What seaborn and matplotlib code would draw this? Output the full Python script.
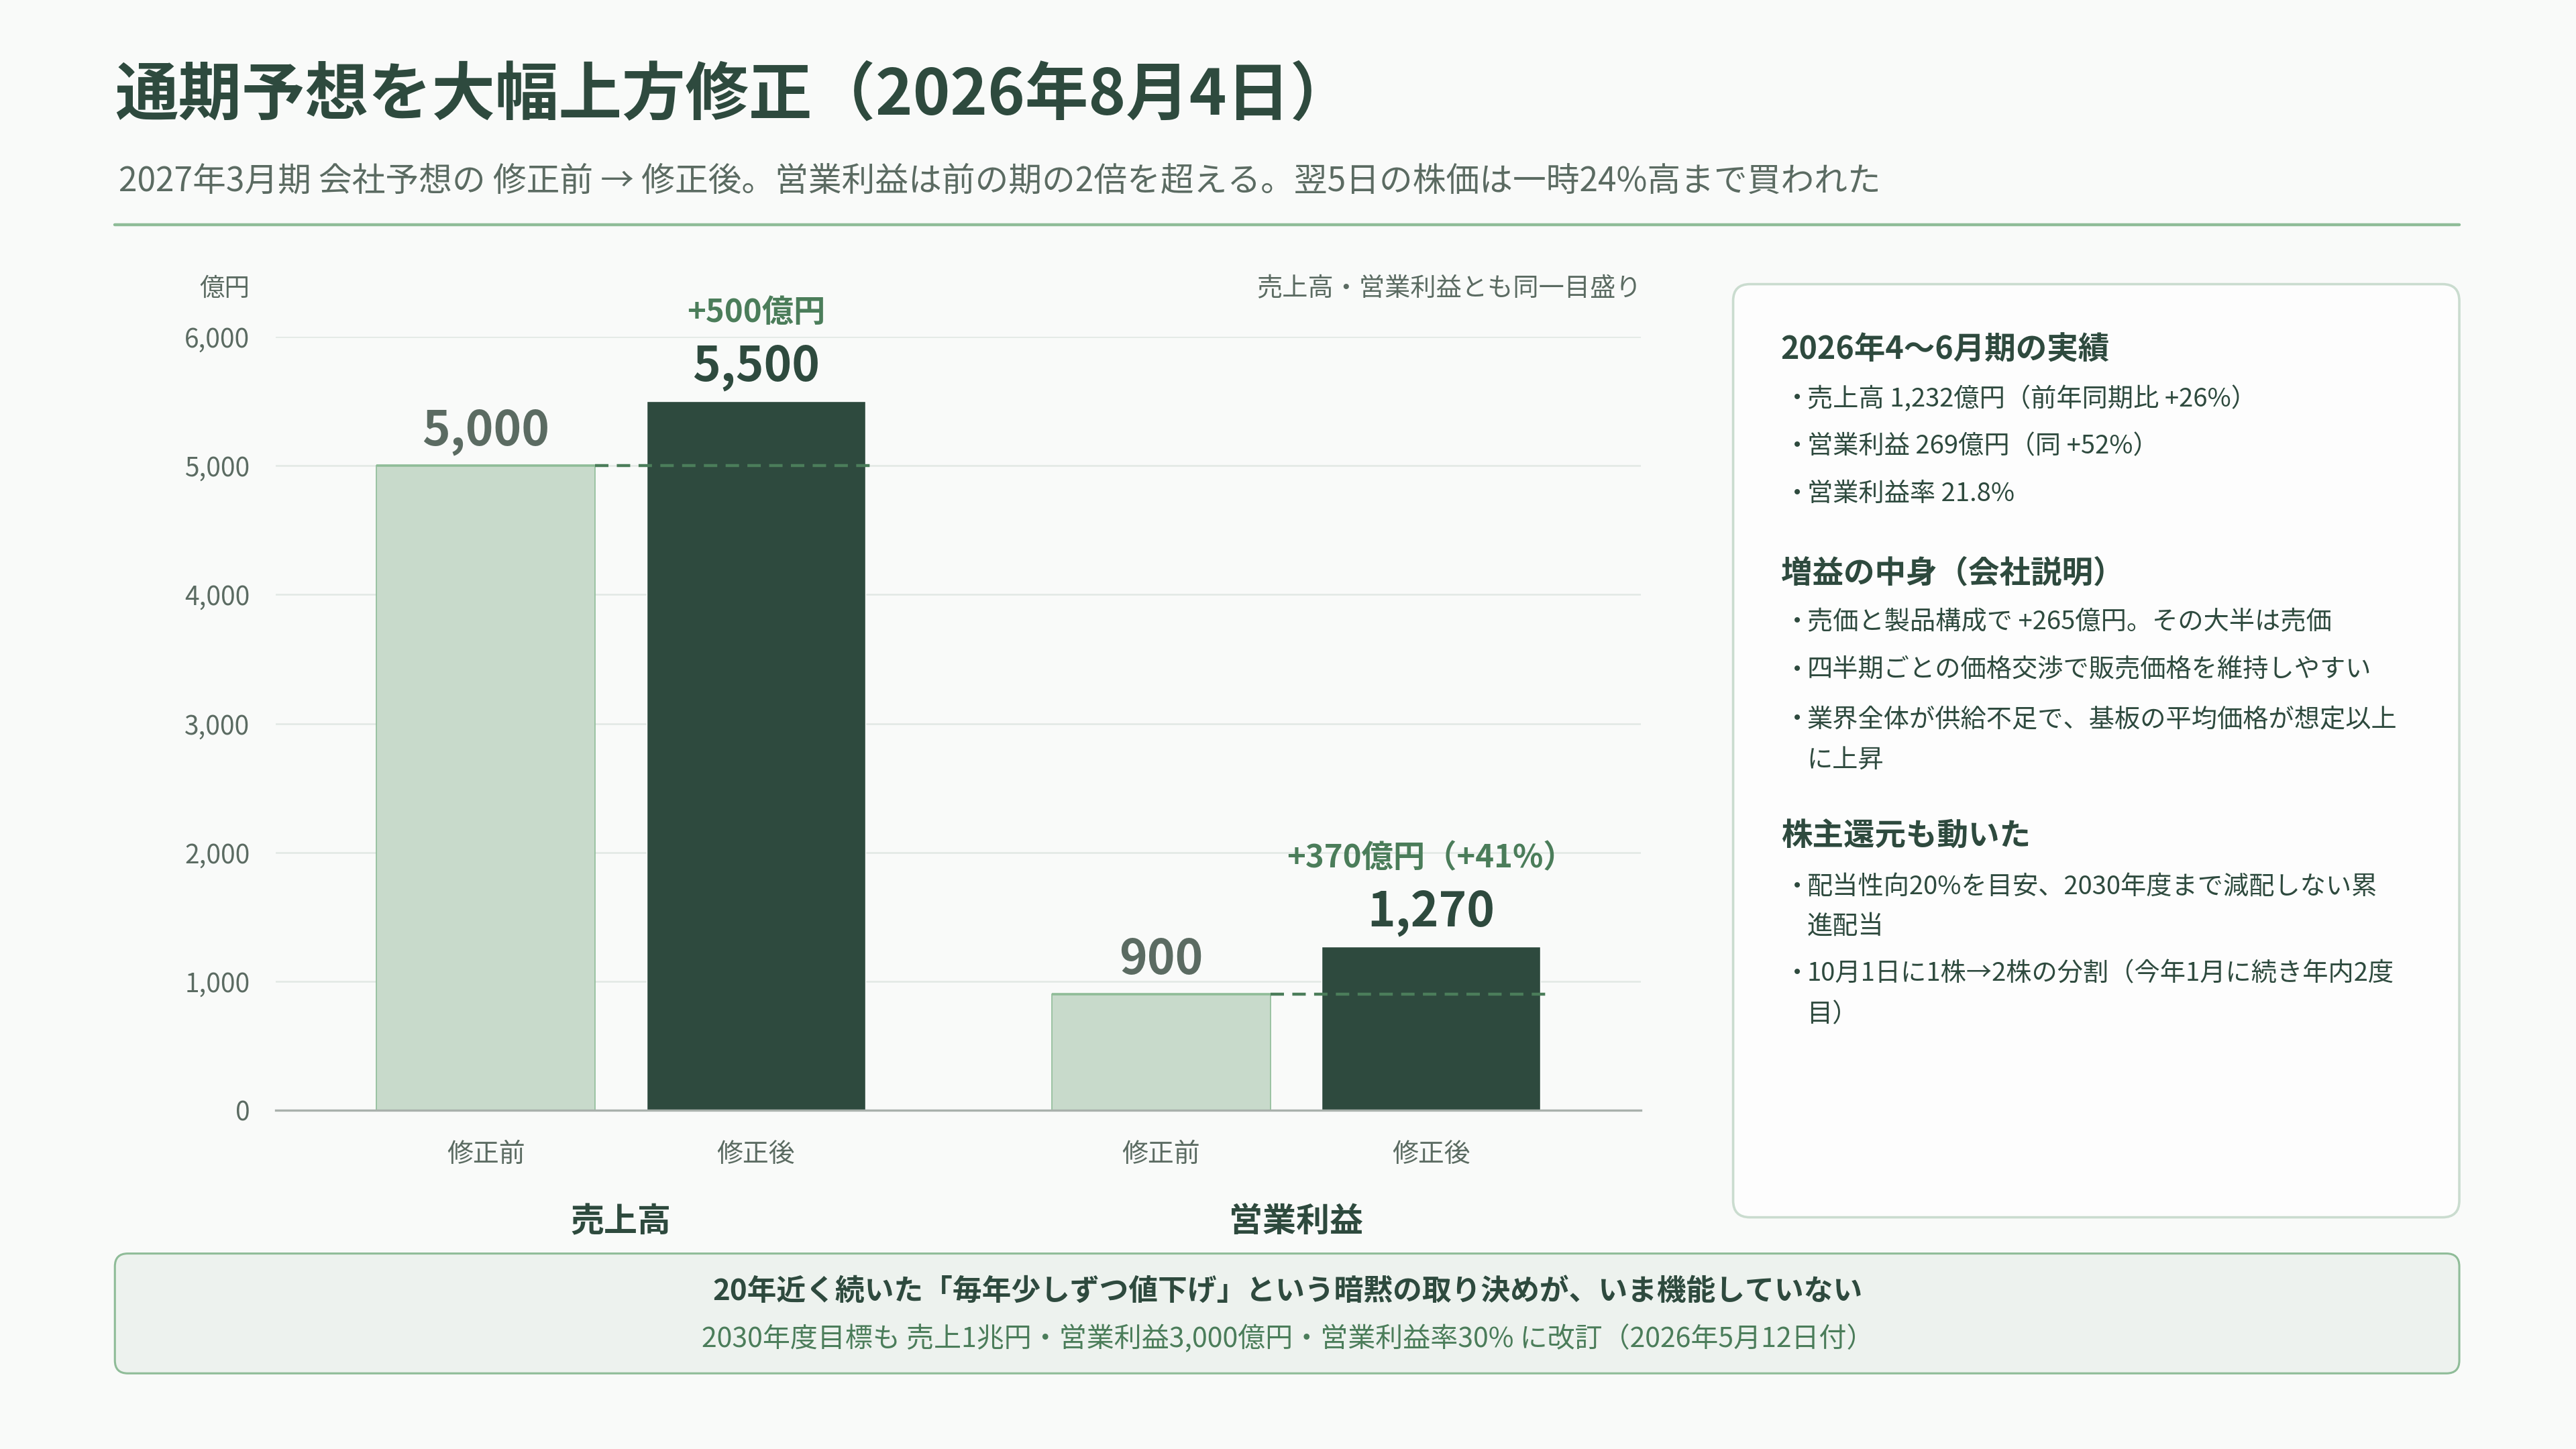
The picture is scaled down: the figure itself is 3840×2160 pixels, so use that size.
import pandas as pd
import seaborn as sns
import matplotlib.pyplot as plt
from matplotlib.patches import FancyBboxPatch
from matplotlib.lines import Line2D
import matplotlib.transforms as mtransforms

# data
metrics = ["売上高", "営業利益"]
phases = ["修正前", "修正後"]
before_values = [5000, 900]
after_values = [5500, 1270]
delta_labels = ["+500億円", "+370億円（+41%）"]
y_ticks = [0, 1000, 2000, 3000, 4000, 5000, 6000]

title = "通期予想を大幅上方修正（2026年8月4日）"
subtitle = "2027年3月期 会社予想の 修正前 → 修正後。営業利益は前の期の2倍を超える。翌5日の株価は一時24%高まで買われた"
unit_label = "億円"
scale_note = "売上高・営業利益とも同一目盛り"

# side panel: (heading, [bullet lines, each a list of wrapped lines])
panel_sections = [
    ("2026年4〜6月期の実績", [
        ["売上高 1,232億円（前年同期比 +26%）"],
        ["営業利益 269億円（同 +52%）"],
        ["営業利益率 21.8%"],
    ]),
    ("増益の中身（会社説明）", [
        ["売価と製品構成で +265億円。その大半は売価"],
        ["四半期ごとの価格交渉で販売価格を維持しやすい"],
        ["業界全体が供給不足で、基板の平均価格が想定以上", "に上昇"],
    ]),
    ("株主還元も動いた", [
        ["配当性向20%を目安、2030年度まで減配しない累", "進配当"],
        ["10月1日に1株→2株の分割（今年1月に続き年内2度", "目）"],
    ]),
]
footer_main = "20年近く続いた「毎年少しずつ値下げ」という暗黙の取り決めが、いま機能していない"
footer_sub = "2030年度目標も 売上1兆円・営業利益3,000億円・営業利益率30% に改訂（2026年5月12日付）"

# colours
BG = "#f9faf9"
DARK = "#2e4a3e"
LIGHT = "#c8dacb"
LIGHT_EDGE = "#8fbc98"
ACCENT = "#4b7d5a"
GRAY = "#5b6b62"
GRID = "#e2e8e4"

sns.set_theme(style="white")
plt.rcParams["font.family"] = ["Noto Sans CJK JP", "DejaVu Sans"]

df = pd.DataFrame({
    "指標": metrics * 2,
    "区分": [phases[0]] * 2 + [phases[1]] * 2,
    "値": before_values + after_values,
})

fig = plt.figure(figsize=(38.4, 21.6), dpi=100, facecolor=BG)
ax = fig.add_axes([0.1071, 0.2336, 0.530, 0.534])
ax.set_facecolor(BG)

sns.barplot(data=df, x="指標", y="値", hue="区分", order=metrics, hue_order=phases,
            palette=[LIGHT, DARK], width=0.8, gap=0.19, errorbar=None, legend=False,
            saturation=1, ax=ax, zorder=3)

ax.set_ylim(0, 6000)
ax.set_xlim(-0.511, 1.511)
ax.set_yticks(y_ticks)
ax.set_yticklabels([f"{v:,}" for v in y_ticks])
ax.tick_params(axis="y", length=0, pad=28, labelsize=28, labelcolor=GRAY)
ax.set_xticks([])
ax.set_xlabel("")
ax.set_ylabel("")
ax.grid(axis="y", color=GRID, linewidth=1.8, zorder=0)
for side in ["top", "right", "left"]:
    ax.spines[side].set_visible(False)
ax.spines["bottom"].set_color("#a9b1ac")
ax.spines["bottom"].set_linewidth(2.4)
ax.spines["bottom"].set_zorder(5)

before_bars = list(ax.containers[0])
after_bars = list(ax.containers[1])
for bar in before_bars:
    bar.set_edgecolor(LIGHT_EDGE)
    bar.set_linewidth(1.2)
    ax.plot([bar.get_x(), bar.get_x() + bar.get_width()], [bar.get_height()] * 2,
            color=LIGHT_EDGE, linewidth=2.6, solid_capstyle="butt", zorder=4)

xlab = mtransforms.blended_transform_factory(ax.transData, ax.transAxes)
for i, (b0, b1) in enumerate(zip(before_bars, after_bars)):
    c0 = b0.get_x() + b0.get_width() / 2
    c1 = b1.get_x() + b1.get_width() / 2
    # dashed reference line at the old value
    ax.plot([b0.get_x() + b0.get_width(), b1.get_x() + b1.get_width() + 0.008],
            [before_values[i]] * 2, color=ACCENT, linewidth=3.2,
            linestyle=(0, (4.5, 2.8)), zorder=4)
    ax.annotate(f"{before_values[i]:,}", (c0, before_values[i]), xytext=(0, 37),
                textcoords="offset points", ha="center", va="center",
                fontsize=51, fontweight="bold", color=GRAY, annotation_clip=False)
    ax.annotate(f"{after_values[i]:,}", (c1, after_values[i]), xytext=(0, 37),
                textcoords="offset points", ha="center", va="center",
                fontsize=51, fontweight="bold", color=DARK, annotation_clip=False)
    ax.annotate(delta_labels[i], (c1, after_values[i]), xytext=(0, 95),
                textcoords="offset points", ha="center", va="center",
                fontsize=34, fontweight="bold", color=ACCENT, annotation_clip=False)
    ax.text(c0, -0.057, phases[0], transform=xlab, ha="center", va="center",
            fontsize=28, color=GRAY)
    ax.text(c1, -0.057, phases[1], transform=xlab, ha="center", va="center",
            fontsize=28, color=GRAY)
    ax.text((c0 + c1) / 2, -0.144, metrics[i], transform=xlab, ha="center", va="center",
            fontsize=36, fontweight="bold", color=DARK)

ax.text(-0.0193, 1.062, unit_label, transform=ax.transAxes, ha="right", va="center",
        fontsize=27, color=GRAY)
ax.text(1.0, 1.062, scale_note, transform=ax.transAxes, ha="right", va="center",
        fontsize=27.5, color=GRAY)

# header
fig.text(0.0446, 0.934, title, ha="left", va="center", fontsize=68,
         fontweight="bold", color=DARK)
fig.text(0.0460, 0.8745, subtitle, ha="left", va="center", fontsize=35.8, color=GRAY)
fig.add_artist(Line2D([0.0446, 0.9547], [0.8447, 0.8447], transform=fig.transFigure,
                      color=LIGHT_EDGE, linewidth=3.2))

# side panel
aspect = 3840 / 2160
fig.add_artist(FancyBboxPatch((0.6728, 0.1599), 0.2819, 0.644,
                              boxstyle="round,pad=0,rounding_size=0.0065",
                              mutation_aspect=aspect, transform=fig.transFigure,
                              facecolor="#fdfdfd", edgecolor="#cadccf", linewidth=2.6))
head_y = [0.7586, 0.6044, 0.4230]
line_y = [[[0.7246], [0.6917], [0.6589]],
          [[0.5704], [0.5375], [0.5035, 0.4752]],
          [[0.3879, 0.3607], [0.3278, 0.2995]]]
for (heading, items), hy, ys in zip(panel_sections, head_y, line_y):
    fig.text(0.6913, hy, heading, ha="left", va="center", fontsize=33.5,
             fontweight="bold", color=DARK)
    for lines, yy in zip(items, ys):
        fig.text(0.6926, yy[0], "・", ha="left", va="center", fontsize=27.5, color=DARK)
        for ln, y in zip(lines, yy):
            fig.text(0.7015, y, ln, ha="left", va="center", fontsize=27.5, color=DARK)

# footer box
fig.add_artist(FancyBboxPatch((0.0446, 0.0522), 0.9101, 0.0827,
                              boxstyle="round,pad=0,rounding_size=0.005",
                              mutation_aspect=aspect, transform=fig.transFigure,
                              facecolor="#edf2ee", edgecolor=LIGHT_EDGE, linewidth=2.2))
fig.text(0.5, 0.1090, footer_main, ha="center", va="center", fontsize=31.5,
         fontweight="bold", color=DARK)
fig.text(0.5, 0.0765, footer_sub, ha="center", va="center", fontsize=29.5, color=ACCENT)

fig.savefig("out.png", dpi=100, facecolor=BG)
